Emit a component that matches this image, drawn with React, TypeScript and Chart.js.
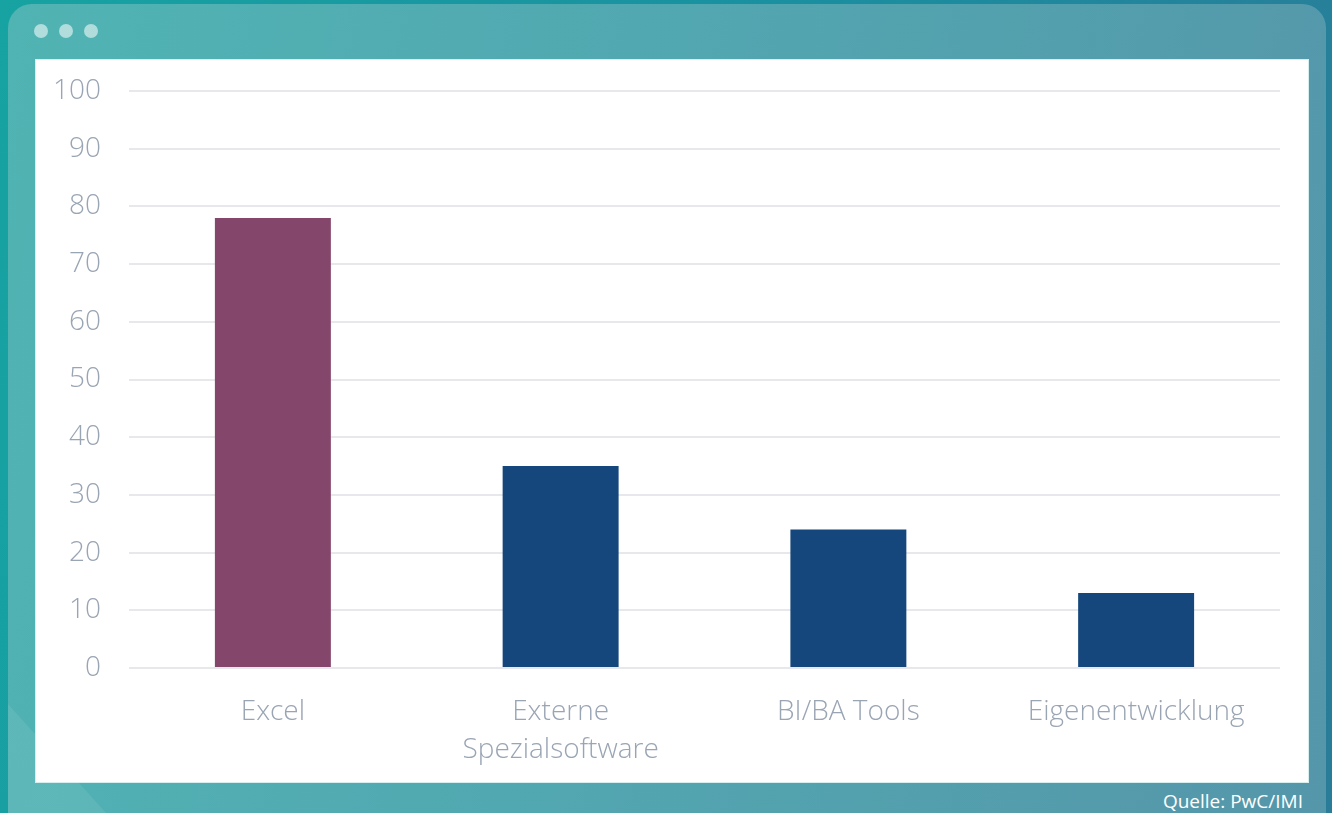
import React, { useEffect, useRef } from "react";
import { Chart, registerables } from "chart.js";

Chart.register(...registerables);

const categories: (string | string[])[] = ["Excel", ["Externe", "Spezialsoftware"], "BI/BA Tools", "Eigenentwicklung"];
const values: number[] = [78, 35, 24, 13];
const barColors: string[] = ["#84466b", "#16477c", "#16477c", "#16477c"];
const yTicks: number[] = [0, 10, 20, 30, 40, 50, 60, 70, 80, 90, 100];
const sourceText = "Quelle: PwC/IMI";

const FONT = "'Segoe UI Light', 'Open Sans', 'Noto Sans', sans-serif";

export default function App() {
  const ref = useRef<HTMLCanvasElement | null>(null);

  useEffect(() => {
    if (!ref.current) return;
    const chart = new Chart(ref.current, {
      type: "bar",
      data: {
        labels: categories,
        datasets: [
          {
            data: values,
            backgroundColor: barColors,
            borderWidth: 0,
            categoryPercentage: 1,
            barPercentage: 0.403,
          },
        ],
      },
      options: {
        animation: false,
        responsive: false,
        maintainAspectRatio: false,
        layout: { padding: { top: 26, right: 28, left: 0, bottom: 0 } },
        plugins: { legend: { display: false }, tooltip: { enabled: false } },
        scales: {
          y: {
            min: 0,
            max: 100,
            afterBuildTicks: (scale: any) => {
              scale.ticks = yTicks.map((v) => ({ value: v }));
            },
            afterFit: (scale: any) => {
              scale.width = 93;
            },
            border: { display: false },
            grid: { color: "#e6e8ec", lineWidth: 2, drawTicks: false },
            ticks: {
              color: "#9aa5b4",
              font: { family: FONT, size: 28, weight: 300, lineHeight: 0.5 },
              padding: 28,
            },
          },
          x: {
            afterFit: (scale: any) => {
              scale.height = 114;
            },
            border: { display: false },
            grid: { display: false },
            ticks: {
              color: "#9aa5b4",
              font: { family: FONT, size: 28, weight: 300, lineHeight: 1.36 },
              padding: 17,
              maxRotation: 0,
              autoSkip: false,
            },
          },
        },
      },
    });
    return () => chart.destroy();
  }, []);

  return (
    <div
      style={{
        position: "fixed",
        inset: 0,
        overflow: "hidden",
        background: "linear-gradient(100deg, #17a3a2 0%, #1a8fa0 55%, #2a7c98 100%)",
        fontFamily: FONT,
      }}
    >
      <div
        style={{
          position: "absolute",
          left: 8,
          top: 4,
          width: 1318,
          height: 900,
          borderRadius: 24,
          background: "linear-gradient(100deg, #50b4b3 0%, #52a6b0 50%, #5596aa 100%)",
          overflow: "hidden",
        }}
      >
        <div
          style={{
            position: "absolute",
            left: 0,
            top: 700,
            width: 300,
            height: 200,
            background: "rgba(255,255,255,0.08)",
            clipPath: "polygon(0 0, 0 100%, 60% 100%)",
          }}
        />
      </div>
      {[41, 66, 91].map((x) => (
        <div
          key={x}
          style={{
            position: "absolute",
            left: x - 7,
            top: 24,
            width: 14,
            height: 14,
            borderRadius: 7,
            background: "rgba(255,255,255,0.55)",
          }}
        />
      ))}
      <div
        style={{
          position: "absolute",
          left: 35,
          top: 59,
          width: 1272,
          height: 722,
          background: "#ffffff",
          border: "1px solid #d6eeee",
          overflow: "hidden",
        }}
      >
        <canvas
          ref={ref}
          width={1272}
          height={726}
          style={{ display: "block", position: "absolute", left: 0, top: -4, width: 1272, height: 726 }}
        />
      </div>
      <div
        style={{
          position: "absolute",
          right: 29,
          top: 790,
          color: "#ffffff",
          fontSize: 19,
          fontFamily: "'Segoe UI', 'Open Sans', sans-serif",
          lineHeight: "22px",
          whiteSpace: "nowrap",
        }}
      >
        {sourceText}
      </div>
    </div>
  );
}
